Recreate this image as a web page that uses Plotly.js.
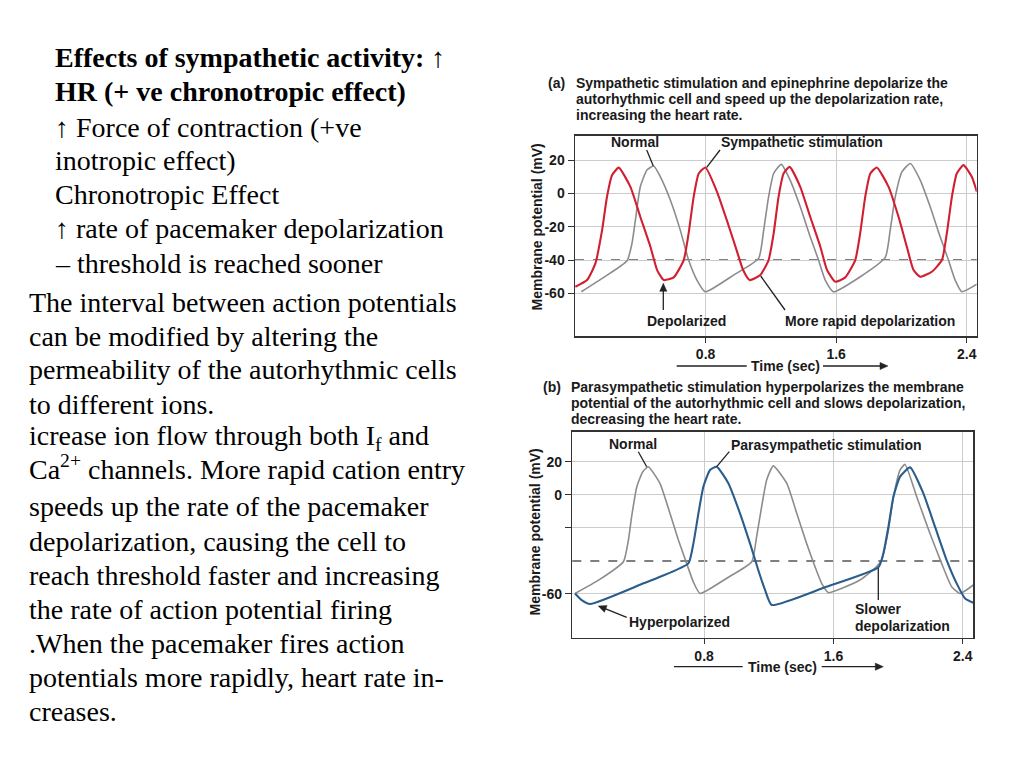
<!DOCTYPE html>
<html><head><meta charset="utf-8">
<script src="https://cdn.plot.ly/plotly-3.0.1.min.js"></script>
<style>html,body{margin:0;padding:0;background:#fff;}#chart{width:1024px;height:768px;}</style>
</head><body><div id="chart"></div>
<script>
// ---------- Panel (a): sympathetic stimulation ----------
const timeA_normal = [0.039,0.176,0.319,0.349,0.370,0.400,0.441,0.482,0.523,0.584,0.645,0.696,0.747,0.798,0.972,1.125,1.156,1.186,1.217,1.264,1.318,1.380,1.441,1.492,1.533,1.584,1.748,1.901,1.931,1.962,2.003,2.054,2.115,2.176,2.237,2.288,2.329,2.370,2.462];
const vmA_normal   = [-59,-50.4,-40.4,-30,-16,4,14.1,16.5,10,-3.9,-22,-40,-52,-59,-49,-39,-22,-2,12,17.5,8,-8,-26,-40,-52,-59,-50,-38.4,-22,-2,13,18,8,-8,-26,-40,-52,-59,-54.5];
const timeA_symp = [0.002,0.074,0.125,0.166,0.196,0.227,0.268,0.339,0.400,0.462,0.503,0.544,0.605,0.666,0.696,0.727,0.758,0.799,0.870,0.930,0.990,1.030,1.070,1.135,1.186,1.217,1.247,1.278,1.315,1.380,1.441,1.503,1.544,1.595,1.656,1.717,1.747,1.778,1.809,1.849,1.921,1.982,2.033,2.074,2.115,2.186,2.248,2.278,2.309,2.339,2.380,2.431,2.462];
const vmA_symp   = [-56,-52,-42,-22,-2,11,15.5,4.1,-14,-32,-46,-52,-50.4,-40,-24,-2,12,15.6,1,-16,-34,-46,-52,-49,-40,-24,-2,12,16,4,-14,-32,-46,-53,-50.4,-40,-24,-2,12,15.6,4,-14,-32,-46,-50,-47,-40,-24,-2,12,17,10,1];
// ---------- Panel (b): parasympathetic stimulation ----------
const timeB_normal = [0.002,0.150,0.301,0.332,0.352,0.384,0.421,0.455,0.527,0.589,0.641,0.692,0.733,0.775,0.940,1.095,1.125,1.156,1.187,1.228,1.311,1.373,1.434,1.486,1.527,1.569,1.764,1.867,1.898,1.940,1.971,2.012,2.043,2.115,2.197,2.269,2.331,2.383,2.465];
const vmB_normal   = [-59.7,-51.5,-40.5,-27.4,-13.2,4.9,14,17,6.9,-11.2,-27.3,-41.5,-52.6,-59.7,-50.5,-40.5,-25.3,-7.2,9,17.5,7,-11.2,-29.4,-43.5,-53.6,-59.2,-51.6,-43.5,-39.5,-21.3,-1.2,15,18.4,-1.2,-23.4,-41.5,-55.6,-59.7,-54.6];
const timeB_para = [0.002,0.043,0.095,0.425,0.528,0.703,0.734,0.765,0.796,0.837,0.878,0.950,1.022,1.084,1.135,1.177,1.218,1.548,1.878,1.909,1.940,1.971,2.012,2.074,2.156,2.228,2.300,2.362,2.414,2.465];
const vmB_para   = [-59.7,-63.7,-66.1,-53.6,-49.6,-41.5,-29.4,-11.2,5,15,17,7,-11.2,-29.4,-45.5,-57.6,-66.7,-56,-43.9,-35.4,-19.3,-1.2,11,16.6,0.9,-19.3,-39.5,-53.6,-62.7,-65.3];
const threshold = -40;
// ---------- ticks ----------
const xTickVals = [0.8,1.6,2.4];
const xTickText = ['0.8','1.6','2.4'];
const yTickValsA = [20,0,-20,-40,-60];
const yTickTextA = ['20','0','-20','-40','-60'];
const yTickValsB = [20,0,-20,-60];
const yTickTextB = ['20','0','','-60'];

const W=1024,H=768;
const PX=x=>x/W, PY=y=>1-y/H;
const SANS='Liberation Sans, Arial, Helvetica, sans-serif';
const SERIF='Liberation Serif, Times New Roman, serif';
const INK='#1a1a1a';
const RED='#d11f2f', GRAY='#8c8c8c', BLUE='#2b5d8c';

function txt(s,x,y,o){return Object.assign({text:s,xref:'paper',yref:'paper',x:PX(x),y:PY(y),showarrow:false,xanchor:'center',yanchor:'middle',font:{family:SANS,size:14,color:INK}},o||{});}
function lt(s,x,y){return txt(s,x,y,{xanchor:'left'});}
function para(s,x,y){return txt(s,x,y,{xanchor:'left',font:{family:SERIF,size:28,color:'#000'}});}
function seg(x0,y0,x1,y1){return {type:'line',xref:'paper',yref:'paper',x0:PX(x0),y0:PY(y0),x1:PX(x1),y1:PY(y1),line:{color:'#222',width:1.3}};}
// arrow = line + filled triangular head (pixel geometry converted to paper)
function arrowShapes(tx,ty,hx,hy){
  const dx=hx-tx, dy=hy-ty, L=Math.hypot(dx,dy), ux=dx/L, uy=dy/L, nx=-uy, ny=ux;
  const hl=8, hw=3.6;
  const bx=hx-hl*ux, by=hy-hl*uy;
  const p=[[hx,hy],[bx+hw*nx,by+hw*ny],[bx-hw*nx,by-hw*ny]];
  const path='M'+p.map(q=>PX(q[0])+','+PY(q[1])).join(' L')+' Z';
  return [seg(tx,ty,bx+2*ux,by+2*uy),{type:'path',xref:'paper',yref:'paper',path:path,fillcolor:'#222',line:{color:'#222',width:0.5}}];
}

const bold = a=>a.map(s=>s?'<b>'+s+'</b>':'');

const traces=[
 {x:timeA_normal,y:vmA_normal,xaxis:'x',yaxis:'y',mode:'lines',line:{color:GRAY,width:1.6,shape:'spline',smoothing:0.5}},
 {x:timeA_symp,y:vmA_symp,xaxis:'x',yaxis:'y',mode:'lines',line:{color:RED,width:2.1,shape:'spline',smoothing:0.5}},
 {x:timeB_normal,y:vmB_normal,xaxis:'x2',yaxis:'y2',mode:'lines',line:{color:GRAY,width:1.6,shape:'spline',smoothing:0.5}},
 {x:timeB_para,y:vmB_para,xaxis:'x2',yaxis:'y2',mode:'lines',line:{color:BLUE,width:2.1,shape:'spline',smoothing:0.5}}
];

function xa(dom,range,anchor){return {domain:dom,range:range,anchor:anchor,tickvals:xTickVals,ticktext:bold(xTickText),showgrid:true,gridcolor:'#cccccc',gridwidth:1,zeroline:false,showline:true,mirror:true,linecolor:'#333',linewidth:1.5,ticks:'outside',ticklen:5,tickcolor:'#333',tickfont:{family:SANS,size:14,color:INK}};}
function ya(dom,range,anchor,tv,tt){return {domain:dom,range:range,anchor:anchor,tickvals:tv,ticktext:bold(tt),showgrid:true,gridcolor:'#cccccc',gridwidth:1,zeroline:false,showline:true,mirror:true,linecolor:'#333',linewidth:1.5,ticks:'outside',ticklen:6,tickcolor:'#333',tickfont:{family:SANS,size:14,color:INK}};}

const left1=[
 ['<b>Effects of sympathetic activity: ↑</b>',57],
 ['<b>HR (+ ve chronotropic effect)</b>',92],
 ['↑ Force of contraction (+ve',127],
 ['inotropic effect)',160],
 ['Chronotropic Effect',194],
 ['↑ rate of pacemaker depolarization',229],
 ['– threshold is reached sooner',263]
];
const left2=[
 ['The interval between action potentials',302],
 ['can be modified by altering the',336],
 ['permeability of the autorhythmic cells',370],
 ['to different ions.',404],
 ['icrease ion flow through both I<sub>f</sub> and',437],
 ['Ca<sup>2+</sup> channels. More rapid cation entry',467],
 ['speeds up the rate of the pacemaker',506],
 ['depolarization, causing the cell to',541],
 ['reach threshold faster and increasing',575],
 ['the rate of action potential firing',609],
 ['.When the pacemaker fires action',643],
 ['potentials more rapidly, heart rate in-',677],
 ['creases.',711]
];

const annotations=[];
left1.forEach(l=>annotations.push(para(l[0],53,l[1])));
left2.forEach(l=>annotations.push(para(l[0],27,l[1])));

// panel a texts
annotations.push(lt('<b>(a)</b>',546,83.3));
annotations.push(lt('<b>Sympathetic stimulation and epinephrine depolarize the</b>',574,83.3));
annotations.push(lt('<b>autorhythmic cell and speed up the depolarization rate,</b>',574,99.3));
annotations.push(lt('<b>increasing the heart rate.</b>',574,115));
annotations.push(txt('<b>Normal</b>',635,141.7));
annotations.push(txt('<b>Sympathetic stimulation</b>',801.7,141.7));
annotations.push(txt('<b>Depolarized</b>',686.7,320.7));
annotations.push(txt('<b>More rapid depolarization</b>',870,320.7));
annotations.push(txt('<b>Time (sec)</b>',785,366));
annotations.push(txt('<b>Membrane potential (mV)</b>',537,227.5,{textangle:-90}));
// panel b texts
annotations.push(lt('<b>(b)</b>',541.3,386.7));
annotations.push(lt('<b>Parasympathetic stimulation hyperpolarizes the membrane</b>',568.7,386.7));
annotations.push(lt('<b>potential of the autorhythmic cell and slows depolarization,</b>',568.7,403.3));
annotations.push(lt('<b>decreasing the heart rate.</b>',568.7,419.3));
annotations.push(txt('<b>Normal</b>',632.7,444));
annotations.push(txt('<b>Parasympathetic stimulation</b>',826,445));
annotations.push(txt('<b>Hyperpolarized</b>',679,622.3));
annotations.push(lt('<b>Slower</b>',853,609));
annotations.push(lt('<b>depolarization</b>',853,625.7));
annotations.push(txt('<b>Time (sec)</b>',782.3,666.7));
annotations.push(txt('<b>Membrane potential (mV)</b>',534,532.5,{textangle:-90}));

const shapes=[
 {type:'line',xref:'x domain',yref:'y',x0:0,x1:1,y0:threshold,y1:threshold,layer:'below',line:{color:'#555',width:1.5,dash:'dash'}},
 {type:'line',xref:'x2 domain',yref:'y2',x0:0,x1:1,y0:threshold,y1:threshold,layer:'below',line:{color:'#555',width:1.5,dash:'dash'}},
 seg(646.7,150,653.3,166),
 seg(720,150,706.7,167.3),
 seg(785,310,760.7,276),
 seg(676.7,366,746.7,366),
 seg(638.3,451.7,646.7,466.7),
 seg(729.3,451.7,716.7,466.7),
 seg(878.3,600,878.3,568.3),
 seg(674,666.7,742.7,666.7)
].concat(
 arrowShapes(663.3,310,663.3,283.3),
 arrowShapes(823,366,888,366),
 arrowShapes(626.7,617.3,598.3,606),
 arrowShapes(821.7,666.7,883.3,666.7)
);

const layout={
 width:W,height:H,margin:{l:0,r:0,t:0,b:0},paper_bgcolor:'#fff',plot_bgcolor:'#fff',showlegend:false,
 xaxis:xa([575/W,976.7/W],[0,2.461],'y'),
 yaxis:ya([1-336/H,1-135.7/H],[-85.6,34.7],'x',yTickValsA,yTickTextA),
 xaxis2:xa([572.3/W,973.3/W],[-0.015,2.465],'y2'),
 yaxis2:ya([1-637.7/H,1-431.7/H],[-86.5,38.2],'x2',yTickValsB,yTickTextB),
 annotations:annotations,shapes:shapes,hovermode:false
};
Plotly.newPlot('chart',traces,layout,{staticPlot:true,displayModeBar:false});
</script></body></html>
